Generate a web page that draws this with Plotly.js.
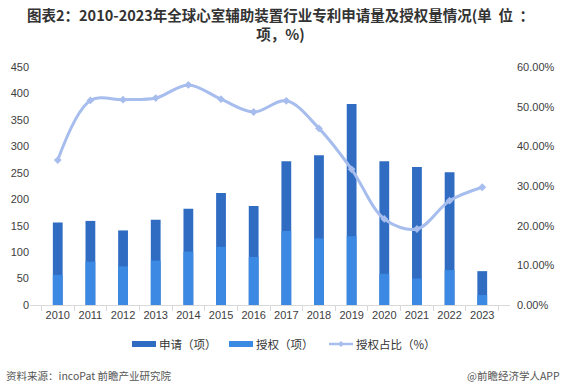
<!DOCTYPE html>
<html>
<head>
<meta charset="utf-8">
<script src="https://cdn.plot.ly/plotly-3.0.1.min.js"></script>
<style>html,body{margin:0;padding:0;background:#fff;}#chart{width:566px;height:387px;}</style>
</head>
<body>
<div id="chart"></div>
<script>
const years = ['2010','2011','2012','2013','2014','2015','2016','2017','2018','2019','2020','2021','2022','2023'];
const applications = [156,159,141,161,182,212,187,272,283,380,272,261,251,64];
const grants = [57,82,73,84,101,110,91,140,126,130,59,50,66,19];
const grantRatio = [0.3654,0.5157,0.5177,0.5217,0.5549,0.5189,0.4866,0.5147,0.4452,0.3421,0.2169,0.1916,0.2629,0.2969];
const leftTicks = [0,50,100,150,200,250,300,350,400,450];
const rightTicks = [0,0.1,0.2,0.3,0.4,0.5,0.6];
const seriesNames = ['申请（项）','授权（项）','授权占比（%）'];
const seriesColors = ['#2f6cc2','#3b89e3','#a6bdee'];

const FONT = 'Liberation Sans, Noto Sans CJK SC, sans-serif';
const CJK = 'Noto Sans CJK SC, sans-serif';

const M = {l:30, r:56, t:67, b:82};
const PW = 566 - M.l - M.r, PH = 387 - M.t - M.b;
const px = x => (x - M.l) / PW;
const py = y => (387 - M.b - y) / PH;

const traces = [
  {type:'bar', name:seriesNames[0], x:years, y:applications, width:0.3,
   marker:{color:seriesColors[0]}, hoverinfo:'skip'},
  {type:'bar', name:seriesNames[1], x:years, y:grants, width:0.3,
   marker:{color:seriesColors[1]}, hoverinfo:'skip'},
  {type:'scatter', mode:'lines+markers', name:seriesNames[2], x:years, y:grantRatio, yaxis:'y2',
   line:{color:seriesColors[2], width:3, shape:'spline', smoothing:1},
   marker:{symbol:'diamond', size:6, color:seriesColors[2]}, hoverinfo:'skip'}
];

const legendY = py(344);
const shapes = [
  {type:'rect', xref:'paper', yref:'paper', x0:px(132), x1:px(156), y0:py(347), y1:py(341),
   fillcolor:seriesColors[0], line:{width:0}},
  {type:'rect', xref:'paper', yref:'paper', x0:px(229), x1:px(253), y0:py(347), y1:py(341),
   fillcolor:seriesColors[1], line:{width:0}},
  {type:'line', xref:'paper', yref:'paper', x0:px(329), x1:px(353), y0:legendY, y1:legendY,
   line:{color:seriesColors[2], width:2.5}},
  {type:'path', xref:'paper', yref:'paper',
   path:`M ${px(341)} ${py(341)} L ${px(344)} ${py(344)} L ${px(341)} ${py(347)} L ${px(338)} ${py(344)} Z`,
   fillcolor:seriesColors[2], line:{width:0}}
];

const legendFont = {family:CJK, size:11.5, color:'#333'};
const footFont = {family:CJK, size:10.5, color:'#555'};
const titleFont = {family:CJK, size:14.5, color:'#333'};
const annotations = [
  {text:'<b>图表2：2010-2023年全球心室辅助装置行业专利申请量及授权量情况(单  位  ：</b><br><b>项，%)</b>',
   xref:'paper', yref:'paper', x:px(280), y:py(24), xanchor:'center', yanchor:'middle', align:'center',
   showarrow:false, font:titleFont},
  {text:seriesNames[0], xref:'paper', yref:'paper', x:px(157), y:legendY, xanchor:'left', yanchor:'middle',
   showarrow:false, font:legendFont},
  {text:seriesNames[1], xref:'paper', yref:'paper', x:px(254), y:legendY, xanchor:'left', yanchor:'middle',
   showarrow:false, font:legendFont},
  {text:seriesNames[2], xref:'paper', yref:'paper', x:px(354), y:legendY, xanchor:'left', yanchor:'middle',
   showarrow:false, font:legendFont},
  {text:'资料来源：incoPat 前瞻产业研究院', xref:'paper', yref:'paper', x:px(4), y:py(375),
   xanchor:'left', yanchor:'middle', showarrow:false, font:footFont},
  {text:'@前瞻经济学人APP', xref:'paper', yref:'paper', x:px(562), y:py(375),
   xanchor:'right', yanchor:'middle', showarrow:false, font:footFont}
];

const layout = {
  width:566, height:387,
  margin:M,
  paper_bgcolor:'#fff', plot_bgcolor:'#fff',
  barmode:'overlay',
  showlegend:false,
  font:{family:FONT, size:11, color:'#404040'},
  xaxis:{type:'category', tickvals:years, ticktext:years, tickangle:0, showgrid:false, zeroline:false,
         showline:true, linecolor:'#d9d9d9', linewidth:1, ticks:'outside', tickson:'boundaries',
         ticklen:5, tickcolor:'#d9d9d9', tickfont:{family:FONT, size:11, color:'#404040'}},
  yaxis:{range:[0,450], tickvals:leftTicks, showgrid:false, zeroline:false, showline:false,
         ticks:'', tickfont:{family:FONT, size:11, color:'#404040'}},
  yaxis2:{overlaying:'y', side:'right', range:[0,0.6], tickvals:rightTicks, tickformat:'.2%',
          showgrid:false, zeroline:false, showline:false, ticks:'', ticklabelstandoff:6,
          tickfont:{family:FONT, size:11, color:'#404040'}},
  shapes:shapes,
  annotations:annotations
};

Plotly.newPlot('chart', traces, layout, {staticPlot:true, displayModeBar:false});
</script>
</body>
</html>
